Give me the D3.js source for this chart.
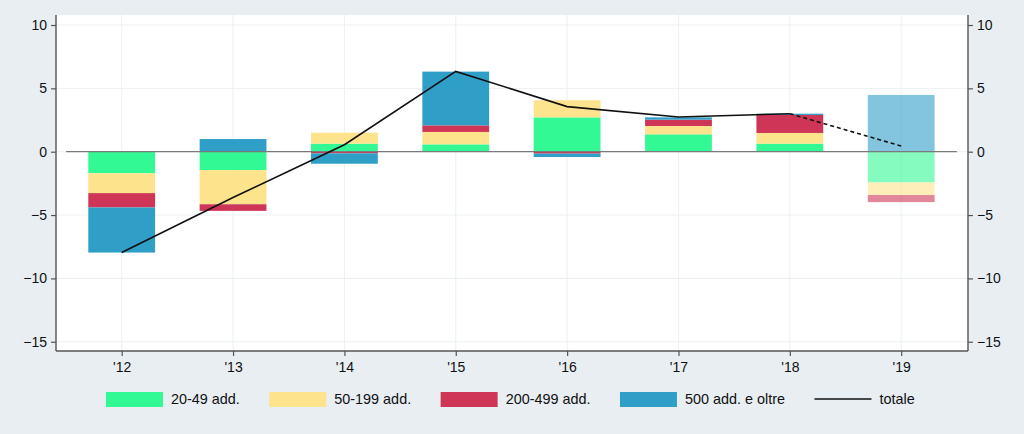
<!DOCTYPE html>
<html>
<head>
<meta charset="utf-8">
<script src="https://cdn.jsdelivr.net/npm/d3@7"></script>
<style>
  html, body { margin: 0; padding: 0; background: #e8eef1; }
  svg { display: block; }
  text { font-family: "Liberation Sans", Arial, Helvetica, sans-serif; fill: #111; }
</style>
</head>
<body>
<svg id="chart" width="1024" height="434"></svg>
<script>
// ---- data ----
const years = [12, 13, 14, 15, 16, 17, 18, 19];
const yearLabels = ["'12", "'13", "'14", "'15", "'16", "'17", "'18", "'19"];
const seriesNames = ["20-49 add.", "50-199 add.", "200-499 add.", "500 add. e oltre"];
const s20_49   = [-1.70, -1.45, 0.63, 0.58, 2.71, 1.37, 0.63, -2.42];
const s50_199  = [-1.57, -2.70, 0.87, 0.98, 1.35, 0.66, 0.85, -1.00];
const s200_499 = [-1.13, -0.52, -0.13, 0.52, -0.15, 0.50, 1.42, -0.56];
const s500     = [-3.56, 1.00, -0.82, 4.24, -0.27, 0.18, 0.10, 4.48];
const totale   = [-7.95, -3.62, 0.55, 6.34, 3.56, 2.74, 3.00, 0.45];
const yTicks = [-15, -10, -5, 0, 5, 10];
const forecastYear = 19;

// ---- styles ----
const colors = ["#33f995", "#fde38c", "#cf3556", "#309fc8"];
const forecastOpacity = 0.6;

(function () {
const svg = d3.select("#chart");
const pL = 56, pR = 968, pT = 15, pB = 351;

const x = d3.scaleLinear().domain([11.41, 19.6]).range([pL, pR]);
const y = d3.scaleLinear().domain([-15.73, 10.79]).range([pB, pT]);

// plot background
svg.append("rect").attr("x", pL).attr("y", pT)
  .attr("width", pR - pL).attr("height", pB - pT).attr("fill", "#ffffff");

// gridlines
const grid = svg.append("g");
grid.selectAll("line.h").data(yTicks).join("line")
  .attr("x1", pL).attr("x2", pR)
  .attr("y1", d => y(d)).attr("y2", d => y(d))
  .attr("stroke", "#ecf0f2").attr("stroke-width", 1);
grid.selectAll("line.v").data(years).join("line")
  .attr("y1", pT).attr("y2", pB)
  .attr("x1", d => x(d)).attr("x2", d => x(d))
  .attr("stroke", "#ecf0f2").attr("stroke-width", 1);

// stacked bars
const rows = years.map((yr, i) => ({
  year: yr,
  k0: s20_49[i], k1: s50_199[i], k2: s200_499[i], k3: s500[i]
}));
const keys = ["k0", "k1", "k2", "k3"];
const stack = d3.stack().keys(keys).offset(d3.stackOffsetDiverging)(rows);
const barHalf = x(12.3) - x(12);

const bars = svg.append("g");
stack.forEach((layer, li) => {
  bars.selectAll(null).data(layer).join("rect")
    .attr("x", d => x(d.data.year) - barHalf)
    .attr("width", barHalf * 2)
    .attr("y", d => y(Math.max(d[0], d[1])))
    .attr("height", d => Math.abs(y(d[0]) - y(d[1])))
    .attr("fill", colors[li])
    .attr("fill-opacity", d => d.data.year === forecastYear ? forecastOpacity : 1);
});

// zero line
svg.append("line")
  .attr("x1", x(11.5)).attr("x2", x(19.5))
  .attr("y1", y(0)).attr("y2", y(0))
  .attr("stroke", "#7a7a7a").attr("stroke-width", 1.2);

// total line
const pts = years.map((yr, i) => [yr, totale[i]]);
const line = d3.line().x(d => x(d[0])).y(d => y(d[1]));
const solidPts = pts.filter(p => p[0] <= 18);
const dashPts = pts.filter(p => p[0] >= 18);
svg.append("path").attr("d", line(solidPts))
  .attr("fill", "none").attr("stroke", "#111").attr("stroke-width", 1.6);
svg.append("path").attr("d", line(dashPts))
  .attr("fill", "none").attr("stroke", "#111").attr("stroke-width", 1.6)
  .attr("stroke-dasharray", "4,3");

// axes
const axisColor = "#555";
const leftAxis = svg.append("g").attr("transform", `translate(${pL},0)`)
  .call(d3.axisLeft(y).tickValues(yTicks).tickSize(5).tickPadding(4));
const rightAxis = svg.append("g").attr("transform", `translate(${pR},0)`)
  .call(d3.axisRight(y).tickValues(yTicks).tickSize(5).tickPadding(4));
const bottomAxis = svg.append("g").attr("transform", `translate(0,${pB})`)
  .call(d3.axisBottom(x).tickValues(years).tickFormat((d, i) => yearLabels[i]).tickSize(5).tickPadding(6));

[leftAxis, rightAxis, bottomAxis].forEach(g => {
  g.select(".domain").remove();
  g.selectAll(".tick line").attr("stroke", axisColor).attr("stroke-width", 1.2);
  g.selectAll(".tick text").attr("font-size", 14).attr("fill", "#111")
    .attr("font-family", "'Liberation Sans', Arial, sans-serif");
});
// axis lines
svg.append("line").attr("x1", pL).attr("x2", pL).attr("y1", pT).attr("y2", pB)
  .attr("stroke", axisColor).attr("stroke-width", 1.4);
svg.append("line").attr("x1", pR).attr("x2", pR).attr("y1", pT).attr("y2", pB)
  .attr("stroke", axisColor).attr("stroke-width", 1.4);
svg.append("line").attr("x1", pL).attr("x2", pR).attr("y1", pB).attr("y2", pB)
  .attr("stroke", axisColor).attr("stroke-width", 1.4);

// legend
const legendItems = seriesNames.map((n, i) => ({ name: n, color: colors[i], type: "rect" }))
  .concat([{ name: "totale", color: "#111", type: "line" }]);
const legend = svg.append("g");
let lx = 106;
const ly = 399;
legendItems.forEach(it => {
  if (it.type === "rect") {
    legend.append("rect").attr("x", lx).attr("y", ly - 7).attr("width", 57).attr("height", 15)
      .attr("fill", it.color);
  } else {
    legend.append("line").attr("x1", lx).attr("x2", lx + 57).attr("y1", ly).attr("y2", ly)
      .attr("stroke", it.color).attr("stroke-width", 1.6);
  }
  const t = legend.append("text").attr("x", lx + 65).attr("y", ly + 5)
    .attr("font-size", 14.4).text(it.name);
  lx = lx + 65 + t.node().getComputedTextLength() + 29.5;
});
})();
</script>
</body>
</html>
